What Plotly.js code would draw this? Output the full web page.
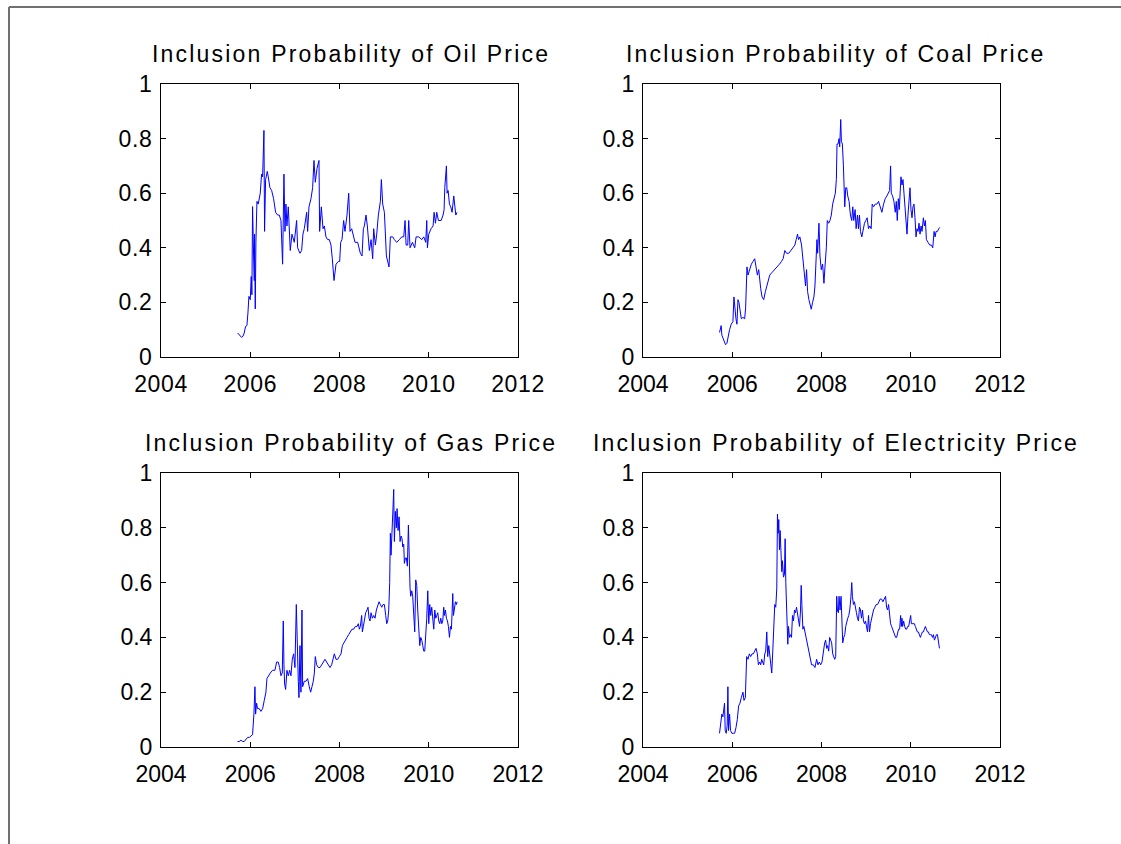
<!DOCTYPE html>
<html>
<head>
<meta charset="utf-8">
<script src="https://cdn.plot.ly/plotly-3.0.1.min.js"></script>
<style>
  html, body { margin: 0; padding: 0; background: #ffffff; }
  #chart { width: 1121px; height: 844px; }
  .annotation-text { letter-spacing: 2.2px; }
  .xtick text, .ytick text { letter-spacing: 0.6px; }
</style>
</head>
<body>
<div id="chart"></div>
<script>
// ---- Data ----
const panelTitles = [
  "Inclusion Probability of Oil Price",
  "Inclusion Probability of Coal Price",
  "Inclusion Probability of Gas Price",
  "Inclusion Probability of Electricity Price"
];
const xTickYears = [2004, 2006, 2008, 2010, 2012];
const yTickProbs = [0, 0.2, 0.4, 0.6, 0.8, 1];

const oilYears = [2005.716,2005.753,2005.806,2005.836,2005.865,2005.895,2005.925,2005.948,2005.970,2006.000,2006.022,2006.037,2006.052,2006.075,2006.090,2006.097,2006.112,2006.127,2006.150,2006.179,2006.209,2006.224,2006.254,2006.277,2006.307,2006.321,2006.344,2006.381,2006.404,2006.441,2006.479,2006.523,2006.568,2006.613,2006.650,2006.688,2006.725,2006.755,2006.778,2006.800,2006.822,2006.852,2006.897,2006.935,2006.987,2007.039,2007.062,2007.114,2007.151,2007.181,2007.211,2007.264,2007.286,2007.316,2007.361,2007.398,2007.428,2007.458,2007.495,2007.540,2007.555,2007.593,2007.630,2007.660,2007.697,2007.735,2007.772,2007.809,2007.839,2007.854,2007.877,2007.922,2007.974,2008.004,2008.026,2008.056,2008.093,2008.123,2008.168,2008.206,2008.236,2008.273,2008.310,2008.348,2008.407,2008.467,2008.505,2008.535,2008.557,2008.594,2008.624,2008.669,2008.707,2008.744,2008.766,2008.804,2008.834,2008.871,2008.916,2008.938,2008.968,2009.006,2009.051,2009.110,2009.140,2009.193,2009.230,2009.282,2009.342,2009.394,2009.439,2009.469,2009.492,2009.529,2009.551,2009.581,2009.634,2009.686,2009.716,2009.776,2009.843,2009.888,2009.933,2009.955,2009.970,2010.000,2010.052,2010.097,2010.120,2010.150,2010.179,2010.217,2010.277,2010.321,2010.344,2010.359,2010.396,2010.411,2010.434,2010.464,2010.493,2010.523,2010.561,2010.583,2010.606,2010.635];
const oilProb = [0.088,0.082,0.072,0.076,0.088,0.112,0.115,0.161,0.222,0.21,0.295,0.228,0.551,0.37,0.28,0.45,0.176,0.42,0.57,0.56,0.60,0.60,0.67,0.66,0.83,0.46,0.65,0.68,0.66,0.62,0.61,0.58,0.53,0.52,0.52,0.50,0.34,0.67,0.46,0.56,0.48,0.55,0.39,0.45,0.42,0.50,0.40,0.38,0.39,0.45,0.47,0.53,0.46,0.55,0.58,0.62,0.72,0.64,0.69,0.72,0.46,0.55,0.47,0.48,0.44,0.43,0.43,0.41,0.36,0.33,0.28,0.34,0.35,0.35,0.42,0.43,0.50,0.46,0.52,0.60,0.46,0.47,0.44,0.42,0.42,0.38,0.37,0.47,0.48,0.52,0.48,0.39,0.43,0.36,0.47,0.41,0.45,0.52,0.57,0.65,0.56,0.53,0.37,0.33,0.44,0.44,0.43,0.42,0.43,0.44,0.44,0.50,0.41,0.41,0.50,0.40,0.42,0.40,0.44,0.44,0.43,0.44,0.42,0.50,0.40,0.45,0.47,0.48,0.53,0.49,0.53,0.50,0.50,0.52,0.54,0.62,0.70,0.60,0.61,0.56,0.55,0.53,0.59,0.55,0.52,0.53];

const coalYears = [2005.715,2005.752,2005.767,2005.812,2005.850,2005.880,2005.910,2005.940,2005.977,2006.015,2006.038,2006.060,2006.083,2006.105,2006.128,2006.150,2006.173,2006.203,2006.240,2006.278,2006.300,2006.330,2006.353,2006.390,2006.428,2006.465,2006.503,2006.533,2006.563,2006.593,2006.615,2006.638,2006.668,2006.705,2006.743,2006.788,2006.840,2006.893,2006.953,2007.013,2007.058,2007.103,2007.140,2007.178,2007.215,2007.268,2007.313,2007.358,2007.403,2007.433,2007.463,2007.485,2007.515,2007.553,2007.583,2007.613,2007.643,2007.665,2007.688,2007.718,2007.748,2007.770,2007.800,2007.830,2007.853,2007.875,2007.898,2007.913,2007.943,2007.965,2007.995,2008.025,2008.055,2008.078,2008.108,2008.130,2008.160,2008.190,2008.220,2008.250,2008.280,2008.310,2008.333,2008.348,2008.370,2008.393,2008.408,2008.431,2008.446,2008.468,2008.491,2008.506,2008.521,2008.543,2008.566,2008.588,2008.618,2008.648,2008.678,2008.701,2008.723,2008.753,2008.776,2008.806,2008.828,2008.851,2008.873,2008.903,2008.933,2008.963,2008.993,2009.023,2009.053,2009.083,2009.113,2009.136,2009.166,2009.203,2009.241,2009.278,2009.316,2009.353,2009.391,2009.428,2009.466,2009.503,2009.526,2009.548,2009.563,2009.593,2009.623,2009.653,2009.676,2009.698,2009.721,2009.743,2009.766,2009.781,2009.803,2009.826,2009.848,2009.871,2009.893,2009.916,2009.938,2009.961,2009.983,2010.005,2010.028,2010.050,2010.073,2010.095,2010.118,2010.140,2010.163,2010.185,2010.208,2010.231,2010.253,2010.283,2010.306,2010.328,2010.351,2010.388,2010.426,2010.463,2010.493,2010.523,2010.546,2010.568,2010.598,2010.628,2010.651];
const coalProb = [0.09,0.115,0.08,0.06,0.045,0.05,0.08,0.10,0.12,0.13,0.22,0.16,0.14,0.12,0.21,0.20,0.17,0.14,0.145,0.14,0.18,0.33,0.30,0.32,0.34,0.35,0.36,0.33,0.30,0.32,0.28,0.25,0.22,0.21,0.24,0.27,0.30,0.31,0.32,0.33,0.34,0.35,0.36,0.39,0.38,0.38,0.39,0.40,0.41,0.43,0.45,0.43,0.44,0.41,0.36,0.30,0.26,0.32,0.24,0.21,0.19,0.175,0.20,0.22,0.26,0.33,0.43,0.38,0.49,0.37,0.32,0.34,0.27,0.33,0.40,0.50,0.49,0.50,0.52,0.56,0.58,0.60,0.65,0.78,0.78,0.80,0.77,0.87,0.79,0.78,0.70,0.59,0.55,0.62,0.62,0.59,0.57,0.52,0.50,0.55,0.50,0.54,0.47,0.52,0.47,0.52,0.46,0.44,0.47,0.49,0.50,0.51,0.47,0.48,0.47,0.56,0.55,0.56,0.56,0.57,0.55,0.53,0.56,0.58,0.59,0.60,0.61,0.70,0.60,0.59,0.57,0.53,0.57,0.50,0.58,0.54,0.60,0.66,0.63,0.65,0.60,0.54,0.50,0.45,0.52,0.58,0.62,0.54,0.51,0.55,0.56,0.51,0.44,0.47,0.46,0.49,0.45,0.48,0.46,0.51,0.48,0.50,0.43,0.42,0.41,0.41,0.40,0.46,0.44,0.46,0.46,0.47,0.475];

const gasYears = [2005.716,2005.753,2005.791,2005.828,2005.865,2005.903,2005.940,2005.978,2006.015,2006.052,2006.082,2006.105,2006.120,2006.142,2006.164,2006.202,2006.239,2006.277,2006.314,2006.351,2006.374,2006.404,2006.449,2006.501,2006.553,2006.591,2006.628,2006.658,2006.688,2006.718,2006.740,2006.755,2006.770,2006.793,2006.822,2006.852,2006.882,2006.912,2006.942,2006.972,2007.002,2007.032,2007.054,2007.077,2007.092,2007.114,2007.136,2007.159,2007.174,2007.211,2007.249,2007.286,2007.323,2007.353,2007.383,2007.413,2007.436,2007.458,2007.488,2007.525,2007.563,2007.600,2007.637,2007.675,2007.712,2007.749,2007.787,2007.824,2007.862,2007.884,2007.922,2007.959,2007.996,2008.034,2008.064,2008.093,2008.131,2008.168,2008.206,2008.243,2008.280,2008.318,2008.355,2008.393,2008.422,2008.445,2008.467,2008.497,2008.512,2008.535,2008.557,2008.587,2008.617,2008.639,2008.662,2008.684,2008.707,2008.737,2008.766,2008.796,2008.826,2008.856,2008.886,2008.916,2008.946,2008.976,2009.006,2009.036,2009.058,2009.081,2009.103,2009.125,2009.140,2009.155,2009.170,2009.193,2009.215,2009.230,2009.252,2009.275,2009.290,2009.312,2009.335,2009.357,2009.379,2009.402,2009.417,2009.439,2009.454,2009.477,2009.499,2009.521,2009.544,2009.566,2009.581,2009.596,2009.619,2009.641,2009.664,2009.686,2009.708,2009.731,2009.753,2009.776,2009.798,2009.821,2009.843,2009.866,2009.888,2009.910,2009.933,2009.955,2009.978,2010.000,2010.022,2010.045,2010.067,2010.090,2010.112,2010.135,2010.157,2010.179,2010.202,2010.224,2010.247,2010.269,2010.292,2010.314,2010.336,2010.351,2010.374,2010.396,2010.419,2010.441,2010.464,2010.486,2010.508,2010.523,2010.538,2010.553,2010.576,2010.598,2010.621,2010.635];
const gasProb = [0.02,0.02,0.025,0.02,0.02,0.03,0.035,0.035,0.04,0.045,0.12,0.22,0.12,0.16,0.14,0.14,0.13,0.14,0.17,0.20,0.25,0.26,0.27,0.28,0.28,0.31,0.31,0.29,0.26,0.27,0.46,0.30,0.23,0.21,0.28,0.26,0.28,0.26,0.32,0.34,0.29,0.52,0.32,0.24,0.18,0.37,0.20,0.50,0.22,0.24,0.24,0.25,0.22,0.20,0.22,0.24,0.27,0.33,0.30,0.29,0.29,0.30,0.31,0.32,0.31,0.30,0.29,0.30,0.32,0.34,0.32,0.32,0.33,0.34,0.37,0.38,0.39,0.40,0.41,0.42,0.43,0.43,0.44,0.44,0.45,0.43,0.44,0.48,0.42,0.44,0.47,0.49,0.50,0.51,0.47,0.46,0.49,0.47,0.48,0.47,0.50,0.52,0.53,0.52,0.51,0.52,0.52,0.48,0.45,0.46,0.50,0.60,0.78,0.70,0.80,0.85,0.94,0.75,0.86,0.80,0.87,0.79,0.84,0.75,0.77,0.76,0.73,0.74,0.67,0.69,0.69,0.66,0.81,0.60,0.58,0.55,0.57,0.55,0.50,0.42,0.61,0.59,0.50,0.42,0.37,0.40,0.39,0.37,0.35,0.35,0.40,0.47,0.57,0.45,0.52,0.48,0.51,0.46,0.43,0.50,0.47,0.48,0.49,0.46,0.45,0.47,0.45,0.46,0.51,0.48,0.50,0.47,0.46,0.44,0.40,0.44,0.43,0.49,0.56,0.48,0.52,0.53,0.52,0.53];

const elecYears = [2005.715,2005.737,2005.752,2005.767,2005.790,2005.812,2005.827,2005.842,2005.865,2005.887,2005.902,2005.917,2005.940,2005.962,2005.992,2006.023,2006.053,2006.083,2006.113,2006.143,2006.173,2006.203,2006.240,2006.263,2006.293,2006.323,2006.353,2006.383,2006.413,2006.443,2006.473,2006.503,2006.533,2006.563,2006.585,2006.615,2006.638,2006.660,2006.683,2006.705,2006.728,2006.750,2006.773,2006.795,2006.818,2006.840,2006.863,2006.885,2006.908,2006.930,2006.953,2006.975,2006.998,2007.013,2007.028,2007.043,2007.058,2007.073,2007.088,2007.110,2007.125,2007.148,2007.170,2007.185,2007.200,2007.215,2007.230,2007.245,2007.260,2007.283,2007.305,2007.328,2007.350,2007.373,2007.395,2007.418,2007.440,2007.463,2007.485,2007.508,2007.530,2007.545,2007.560,2007.583,2007.605,2007.628,2007.658,2007.688,2007.718,2007.748,2007.778,2007.816,2007.853,2007.891,2007.921,2007.951,2007.981,2008.011,2008.041,2008.071,2008.093,2008.116,2008.138,2008.161,2008.183,2008.206,2008.228,2008.251,2008.273,2008.296,2008.318,2008.341,2008.356,2008.378,2008.393,2008.416,2008.438,2008.453,2008.476,2008.498,2008.521,2008.543,2008.566,2008.588,2008.611,2008.633,2008.656,2008.678,2008.693,2008.716,2008.738,2008.761,2008.783,2008.806,2008.828,2008.851,2008.873,2008.896,2008.918,2008.941,2008.963,2008.986,2009.008,2009.031,2009.053,2009.076,2009.098,2009.121,2009.143,2009.166,2009.196,2009.226,2009.256,2009.286,2009.316,2009.346,2009.376,2009.406,2009.436,2009.458,2009.481,2009.503,2009.526,2009.548,2009.571,2009.593,2009.616,2009.638,2009.661,2009.683,2009.706,2009.728,2009.751,2009.773,2009.788,2009.803,2009.818,2009.841,2009.863,2009.886,2009.908,2009.931,2009.953,2009.976,2009.998,2010.013,2010.036,2010.058,2010.081,2010.103,2010.126,2010.148,2010.171,2010.193,2010.216,2010.238,2010.261,2010.283,2010.306,2010.328,2010.351,2010.373,2010.396,2010.418,2010.441,2010.463,2010.486,2010.508,2010.531,2010.553,2010.576,2010.598,2010.621,2010.643];
const elecProb = [0.05,0.08,0.10,0.12,0.11,0.15,0.16,0.06,0.05,0.08,0.22,0.06,0.12,0.06,0.05,0.05,0.05,0.07,0.10,0.15,0.16,0.18,0.20,0.17,0.18,0.33,0.32,0.34,0.33,0.34,0.34,0.35,0.36,0.34,0.30,0.31,0.30,0.32,0.31,0.30,0.34,0.35,0.42,0.33,0.37,0.34,0.32,0.27,0.35,0.44,0.52,0.51,0.58,0.85,0.78,0.83,0.72,0.79,0.73,0.64,0.68,0.62,0.63,0.76,0.60,0.50,0.43,0.375,0.44,0.40,0.41,0.40,0.48,0.46,0.50,0.49,0.51,0.48,0.46,0.44,0.50,0.59,0.52,0.43,0.44,0.42,0.40,0.38,0.34,0.32,0.30,0.30,0.29,0.32,0.30,0.31,0.30,0.31,0.35,0.38,0.39,0.36,0.37,0.35,0.40,0.39,0.38,0.34,0.33,0.32,0.33,0.55,0.50,0.49,0.55,0.50,0.55,0.43,0.38,0.40,0.41,0.44,0.46,0.47,0.48,0.50,0.54,0.60,0.55,0.52,0.53,0.50,0.49,0.47,0.46,0.51,0.50,0.47,0.50,0.46,0.45,0.46,0.44,0.42,0.48,0.42,0.45,0.47,0.49,0.50,0.51,0.52,0.52,0.53,0.54,0.54,0.53,0.54,0.55,0.51,0.50,0.52,0.47,0.45,0.44,0.43,0.42,0.41,0.40,0.40,0.42,0.43,0.43,0.48,0.44,0.47,0.44,0.46,0.44,0.43,0.43,0.44,0.44,0.47,0.48,0.45,0.45,0.45,0.45,0.44,0.43,0.42,0.42,0.41,0.40,0.41,0.42,0.42,0.43,0.44,0.43,0.42,0.42,0.41,0.41,0.41,0.40,0.41,0.39,0.40,0.41,0.41,0.39,0.36];

const seriesYears = [oilYears, coalYears, gasYears, elecYears];
const seriesProbs = [oilProb, coalProb, gasProb, elecProb];

// ---- Layout geometry (figure pixels) ----
const W = 1121, H = 844;
const colPx = [[161, 518], [643, 1000]];
const rowPx = [[84, 357], [473, 747]];
const titleCenterPx = [351, 836];
const titleOffsetPx = 30;

const FONT = "Liberation Sans, Arial, Helvetica, sans-serif";

const traces = [];
const layout = {
  width: W, height: H,
  margin: {l: 0, r: 0, t: 0, b: 0, pad: 0},
  paper_bgcolor: "#ffffff",
  plot_bgcolor: "#ffffff",
  showlegend: false,
  font: {family: FONT, size: 23, color: "#000000"},
  annotations: [],
  shapes: [
    {type: "line", xref: "paper", yref: "paper", x0: 9/W, x1: 9/W, y0: 0, y1: 1 - 7/H, line: {color: "#707070", width: 2}},
    {type: "line", xref: "paper", yref: "paper", x0: 9/W, x1: 1, y0: 1 - 7/H, y1: 1 - 7/H, line: {color: "#707070", width: 2}}
  ]
};

for (let i = 0; i < 4; i++) {
  const r = Math.floor(i / 2), c = i % 2;
  const n = i + 1;
  const xa = n === 1 ? "xaxis" : "xaxis" + n;
  const ya = n === 1 ? "yaxis" : "yaxis" + n;
  traces.push({
    type: "scatter", mode: "lines",
    x: seriesYears[i], y: seriesProbs[i],
    xaxis: "x" + (n === 1 ? "" : n), yaxis: "y" + (n === 1 ? "" : n),
    line: {color: "#0000ff", width: 1},
    hoverinfo: "skip"
  });
  const axCommon = {
    showgrid: false, zeroline: false,
    showline: true, linecolor: "#000000", linewidth: 1,
    mirror: "ticks", ticks: "inside", ticklen: 5, tickwidth: 1, tickcolor: "#000000",
    tickfont: {family: FONT, size: 23, color: "#000000"},
    fixedrange: true
  };
  layout[xa] = Object.assign({}, axCommon, {
    domain: [colPx[c][0] / W, colPx[c][1] / W],
    range: [xTickYears[0], xTickYears[xTickYears.length - 1]],
    tickmode: "array", tickvals: xTickYears, ticktext: xTickYears.map(String),
    anchor: "y" + (n === 1 ? "" : n),
    ticklabelstandoff: 6
  });
  layout[ya] = Object.assign({}, axCommon, {
    domain: [1 - rowPx[r][1] / H, 1 - rowPx[r][0] / H],
    range: [yTickProbs[0], yTickProbs[yTickProbs.length - 1]],
    tickmode: "array", tickvals: yTickProbs, ticktext: yTickProbs.map(String),
    anchor: "x" + (n === 1 ? "" : n),
    ticklabelstandoff: 3
  });
  layout.annotations.push({
    text: panelTitles[i],
    xref: "paper", yref: "paper",
    x: titleCenterPx[c] / W, y: 1 - (rowPx[r][0] - titleOffsetPx) / H,
    xanchor: "center", yanchor: "middle",
    showarrow: false,
    font: {family: FONT, size: 23, color: "#000000"}
  });
}

Plotly.newPlot("chart", traces, layout, {displayModeBar: false, staticPlot: true});
</script>
</body>
</html>
